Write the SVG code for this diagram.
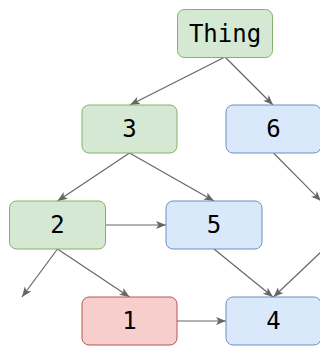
<svg xmlns="http://www.w3.org/2000/svg" width="320" height="346" viewBox="0 0 320 346">
<defs>
<style>
.n rect{stroke-width:1}
.g rect{fill:#d5e8d4;stroke:#82b366}
.b rect{fill:#dae8fc;stroke:#6c8ebf}
.r rect{fill:#f8cecc;stroke:#b85450}
text{font-family:"DejaVu Sans Mono",monospace;font-size:24px;fill:#000;text-anchor:middle;dominant-baseline:central}
.e line{stroke:#666;stroke-width:1.2;fill:none}
</style>
<marker id="a" markerUnits="userSpaceOnUse" markerWidth="12" markerHeight="10" refX="10" refY="4" orient="auto" viewBox="0 0 12 10">
<path d="M0,0 L10,4 L0,8 L2.5,4 Z" fill="#666"/>
</marker>
</defs>
<rect width="320" height="346" fill="#fff"/>
<g id="edges" class="e" marker-end="url(#a)">
<line x1="225" y1="57" x2="130" y2="105" marker-end="url(#a)"/>
<line x1="225" y1="57" x2="273" y2="105" marker-end="url(#a)"/>
<line x1="129.5" y1="153" x2="57.5" y2="201" marker-end="url(#a)"/>
<line x1="129.5" y1="153" x2="214" y2="201" marker-end="url(#a)"/>
<line x1="273.5" y1="153" x2="321" y2="201" marker-end="url(#a)"/>
<line x1="106" y1="225" x2="166" y2="225" marker-end="url(#a)"/>
<line x1="57.5" y1="249" x2="22" y2="297" marker-end="url(#a)"/>
<line x1="57.5" y1="249" x2="129.5" y2="297" marker-end="url(#a)"/>
<line x1="214" y1="249" x2="273" y2="297" marker-end="url(#a)"/>
<line x1="324" y1="249" x2="273.5" y2="297" marker-end="url(#a)"/>
<line x1="177" y1="321" x2="226" y2="321" marker-end="url(#a)"/>
</g>
<g id="node-thing" class="n g"><rect x="177.5" y="9.5" width="95" height="48" rx="7"/><text x="225" y="34">Thing</text></g>
<g id="node-3" class="n g"><rect x="82" y="105" width="95" height="48" rx="7"/><text x="129.5" y="129">3</text></g>
<g id="node-6" class="n b"><rect x="226" y="105" width="95" height="48" rx="7"/><text x="273.5" y="129">6</text></g>
<g id="node-2" class="n g"><rect x="9.5" y="201" width="96" height="48" rx="7"/><text x="57.5" y="225">2</text></g>
<g id="node-5" class="n b"><rect x="166" y="201" width="96" height="48" rx="7"/><text x="214" y="225">5</text></g>
<g id="node-1" class="n r"><rect x="82" y="297" width="95" height="48" rx="7"/><text x="129.5" y="321">1</text></g>
<g id="node-4" class="n b"><rect x="226" y="297" width="95" height="48" rx="7"/><text x="273.5" y="321">4</text></g>
</svg>
